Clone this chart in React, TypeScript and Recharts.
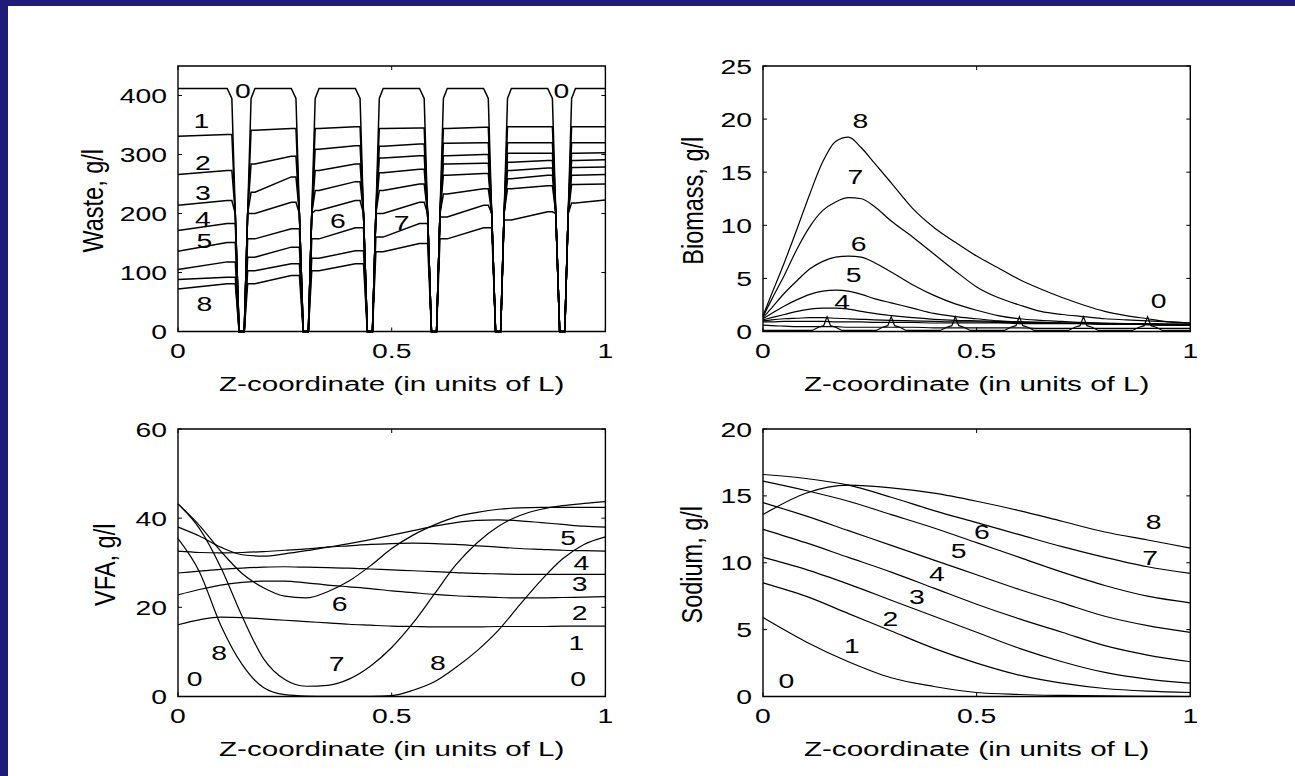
import React from "react";
import {
  LineChart,
  Line,
  XAxis,
  YAxis,
  ReferenceArea,
  ReferenceDot,
  Label,
} from "recharts";

// ---------- Waste, g/l ----------
// each loading point: shoulder, steep fall, floor, steep rise, shoulder
const wasteZ = [
  0,
  0.115, 0.126, 0.134, 0.143, 0.155, 0.163, 0.171, 0.18,
  0.265, 0.276, 0.284, 0.293, 0.305, 0.313, 0.321, 0.33,
  0.415, 0.426, 0.434, 0.443, 0.455, 0.463, 0.471, 0.48,
  0.565, 0.576, 0.584, 0.593, 0.605, 0.613, 0.621, 0.63,
  0.715, 0.726, 0.734, 0.743, 0.755, 0.763, 0.771, 0.78,
  0.865, 0.876, 0.884, 0.893, 0.905, 0.913, 0.921, 0.93,
  1,
];
const waste0 = [
  412,
  412, 395, 200, 0, 0, 200, 395, 412,
  412, 395, 200, 0, 0, 200, 395, 412,
  412, 395, 200, 0, 0, 200, 395, 412,
  412, 395, 200, 0, 0, 200, 395, 412,
  412, 395, 200, 0, 0, 200, 395, 412,
  412, 395, 200, 0, 0, 200, 395, 412,
  412,
];
const waste1 = [
  331,
  334, 334, 200, 0, 0, 200, 341, 341,
  344, 344, 200, 0, 0, 200, 344, 344,
  347, 347, 200, 0, 0, 200, 344, 344,
  345, 345, 200, 0, 0, 200, 344, 344,
  346, 346, 200, 0, 0, 200, 347, 347,
  347, 347, 200, 0, 0, 200, 347, 347,
  347,
];
const waste2 = [
  266,
  273, 273, 200, 0, 0, 200, 284, 284,
  297, 297, 200, 0, 0, 200, 309, 309,
  315, 315, 200, 0, 0, 200, 314, 314,
  318, 318, 200, 0, 0, 200, 319, 319,
  320, 320, 200, 0, 0, 200, 320, 320,
  320, 320, 200, 0, 0, 200, 320, 320,
  320,
];
const waste3 = [
  214,
  222, 222, 200, 0, 0, 200, 236, 236,
  262, 262, 200, 0, 0, 200, 273, 273,
  284, 284, 200, 0, 0, 200, 294, 294,
  298, 298, 200, 0, 0, 200, 298, 298,
  300, 300, 200, 0, 0, 200, 302, 302,
  302, 302, 200, 0, 0, 200, 302, 302,
  303,
];
const waste4 = [
  171,
  183, 183, 183, 0, 0, 200, 200, 200,
  219, 219, 200, 0, 0, 200, 239, 239,
  254, 254, 200, 0, 0, 200, 269, 269,
  275, 275, 200, 0, 0, 200, 284, 284,
  285, 285, 200, 0, 0, 200, 287, 287,
  290, 290, 200, 0, 0, 200, 290, 290,
  291,
];
const waste5 = [
  136,
  151, 151, 151, 0, 0, 157, 157, 157,
  174, 174, 174, 0, 0, 200, 205, 205,
  222, 222, 200, 0, 0, 200, 239, 239,
  250, 250, 200, 0, 0, 200, 265, 265,
  268, 268, 200, 0, 0, 200, 273, 273,
  277, 277, 200, 0, 0, 200, 278, 278,
  279,
];
const waste6 = [
  105,
  118, 118, 118, 0, 0, 126, 126, 126,
  143, 143, 143, 0, 0, 157, 157, 157,
  176, 176, 176, 0, 0, 200, 200, 200,
  219, 219, 200, 0, 0, 200, 233, 233,
  242, 242, 200, 0, 0, 200, 259, 259,
  265, 265, 200, 0, 0, 200, 265, 265,
  266,
];
const waste7 = [
  88,
  92, 92, 92, 0, 0, 103, 103, 103,
  115, 115, 115, 0, 0, 124, 124, 124,
  137, 137, 137, 0, 0, 160, 160, 160,
  183, 183, 183, 0, 0, 194, 194, 194,
  214, 214, 200, 0, 0, 200, 242, 242,
  247, 247, 200, 0, 0, 200, 249, 249,
  250,
];
const waste8 = [
  72,
  81, 81, 81, 0, 0, 81, 81, 81,
  95, 95, 95, 0, 0, 103, 103, 103,
  115, 115, 115, 0, 0, 135, 135, 135,
  149, 149, 149, 0, 0, 157, 157, 157,
  176, 176, 176, 0, 0, 189, 189, 189,
  203, 203, 200, 0, 0, 200, 218, 218,
  223,
];
const wasteTicks = [0, 100, 200, 300, 400];

// ---------- Biomass, g/l ----------
const bioZ = [
  0, 0.02, 0.05, 0.08, 0.11, 0.14, 0.17, 0.2, 0.23, 0.26, 0.3, 0.35, 0.4,
  0.45, 0.5, 0.55, 0.6, 0.65, 0.7, 0.75, 0.8, 0.85, 0.9, 0.95, 1,
];
const bio1 = [0.6, 0.55, 0.5, 0.45, 0.45, 0.45, 0.45, 0.4, 0.4, 0.4, 0.4, 0.4, 0.35, 0.35, 0.35, 0.35, 0.35, 0.3, 0.3, 0.3, 0.3, 0.3, 0.3, 0.3, 0.3];
const bio2 = [0.9, 0.9, 0.95, 0.95, 0.95, 0.95, 0.9, 0.9, 0.9, 0.85, 0.85, 0.85, 0.8, 0.8, 0.8, 0.8, 0.75, 0.75, 0.75, 0.75, 0.7, 0.7, 0.7, 0.7, 0.7];
const bio3 = [1.0, 1.1, 1.2, 1.25, 1.3, 1.3, 1.25, 1.2, 1.15, 1.1, 1.05, 1.0, 0.95, 0.9, 0.9, 0.85, 0.85, 0.8, 0.8, 0.8, 0.75, 0.75, 0.75, 0.7, 0.7];
const bio4 = [1.1, 1.3, 1.6, 1.9, 2.1, 2.2, 2.2, 2.1, 1.9, 1.7, 1.5, 1.3, 1.15, 1.05, 1.0, 0.95, 0.9, 0.85, 0.8, 0.75, 0.7, 0.7, 0.65, 0.6, 0.6];
const bio5 = [1.2, 1.7, 2.4, 3.0, 3.5, 3.8, 3.9, 3.8, 3.5, 3.1, 2.7, 2.2, 1.7, 1.4, 1.2, 1.0, 0.9, 0.85, 0.8, 0.75, 0.7, 0.7, 0.65, 0.6, 0.6];
const bio6 = [1.3, 2.2, 3.6, 4.8, 5.9, 6.6, 7.0, 7.1, 7.0, 6.5, 5.6, 4.4, 3.4, 2.6, 2.0, 1.5, 1.2, 1.05, 0.95, 0.85, 0.8, 0.75, 0.7, 0.65, 0.6];
const bio7 = [1.4, 3.0, 5.3, 7.8, 9.9, 11.4, 12.2, 12.6, 12.5, 11.8, 10.4, 8.9, 7.3, 5.7, 4.2, 3.2, 2.5, 1.9, 1.6, 1.4, 1.2, 1.1, 1.0, 0.9, 0.8];
const bio8 = [1.5, 3.5, 6.5, 9.7, 13.0, 16.0, 17.9, 18.3, 17.3, 15.9, 14.0, 11.6, 9.8, 8.4, 7.1, 6.0, 4.9, 4.0, 3.2, 2.5, 1.9, 1.5, 1.2, 0.9, 0.8];
// time 0 has small bumps at every loading point
const bio0Z = [
  0,
  0.115, 0.13, 0.142, 0.15, 0.158, 0.17, 0.185,
  0.265, 0.28, 0.292, 0.3, 0.308, 0.32, 0.335,
  0.415, 0.43, 0.442, 0.45, 0.458, 0.47, 0.485,
  0.565, 0.58, 0.592, 0.6, 0.608, 0.62, 0.635,
  0.715, 0.73, 0.742, 0.75, 0.758, 0.77, 0.785,
  0.865, 0.88, 0.892, 0.9, 0.908, 0.92, 0.935,
  1,
];
const bio0 = [
  0.1,
  0.1, 0.4, 0.55, 1.4, 0.55, 0.4, 0.1,
  0.1, 0.4, 0.55, 1.4, 0.55, 0.4, 0.1,
  0.1, 0.4, 0.55, 1.4, 0.55, 0.4, 0.1,
  0.1, 0.4, 0.55, 1.4, 0.55, 0.4, 0.1,
  0.1, 0.4, 0.55, 1.4, 0.55, 0.4, 0.1,
  0.1, 0.4, 0.55, 1.4, 0.55, 0.4, 0.1,
  0.1,
];
const bioTicks = [0, 5, 10, 15, 20, 25];

// ---------- VFA, g/l ----------
const vfaZ = [
  0, 0.05, 0.1, 0.15, 0.2, 0.25, 0.3, 0.35, 0.4, 0.45, 0.5, 0.55, 0.6, 0.65,
  0.7, 0.75, 0.8, 0.85, 0.9, 0.95, 1,
];
const vfa0 = [0, 0, 0, 0, 0, 0, 0, 0, 0, 0, 0, 0, 0, 0, 0, 0, 0, 0, 0, 0, 0];
const vfa1 = [16.1, 17.2, 17.8, 17.7, 17.4, 17.1, 16.8, 16.5, 16.2, 16.0, 15.8, 15.7, 15.6, 15.6, 15.6, 15.7, 15.7, 15.7, 15.8, 15.8, 15.8];
const vfa2 = [22.8, 24.0, 25.0, 25.6, 25.9, 25.9, 25.5, 25.0, 24.6, 24.2, 23.7, 23.3, 22.9, 22.6, 22.4, 22.2, 22.1, 22.1, 22.2, 22.3, 22.4];
const vfa3 = [27.7, 28.1, 28.5, 28.8, 29.0, 29.1, 29.0, 28.9, 28.8, 28.6, 28.4, 28.2, 28.0, 27.8, 27.6, 27.5, 27.4, 27.4, 27.4, 27.4, 27.4];
const vfa4 = [32.6, 32.3, 32.2, 32.3, 32.5, 32.8, 33.1, 33.5, 33.8, 34.1, 34.3, 34.4, 34.3, 34.1, 33.8, 33.5, 33.2, 33.0, 32.8, 32.7, 32.6];
const vfa5 = [38.0, 36.0, 33.5, 31.8, 31.5, 32.0, 32.7, 33.5, 34.3, 35.2, 36.2, 37.2, 38.2, 39.0, 39.5, 39.6, 39.4, 39.0, 38.6, 38.2, 38.0];
const vfa6 = [43.2, 38.4, 32.6, 27.6, 24.4, 22.5, 22.1, 23.5, 25.9, 29.3, 33.2, 36.2, 38.5, 40.3, 41.3, 42.0, 42.3, 42.4, 42.4, 42.4, 42.4];
const vfa7 = [43.2, 37.7, 29.0, 18.0, 8.5, 3.8, 2.3, 2.5, 3.9, 6.8, 11.0, 16.5, 23.0, 29.5, 34.5, 38.2, 40.6, 42.0, 42.8, 43.3, 43.7];
const vfa8 = [35.4, 28.0, 16.0, 7.2, 2.0, 0.4, 0.1, 0.05, 0.05, 0.05, 0.2, 1.4, 3.3, 6.5, 10.3, 14.9, 20.6, 26.1, 30.9, 34.1, 35.8];
const vfaTicks = [0, 20, 40, 60];

// ---------- Sodium, g/l ----------
const sodZ = [0, 0.1, 0.2, 0.3, 0.4, 0.5, 0.6, 0.7, 0.8, 0.9, 1];
const sod0 = [0, 0, 0, 0, 0, 0, 0, 0, 0, 0, 0];
const sod1 = [5.9, 4.1, 2.6, 1.4, 0.75, 0.3, 0.15, 0.08, 0.04, 0.02, 0.0];
const sod2 = [8.5, 7.5, 6.2, 4.9, 3.6, 2.5, 1.6, 1.0, 0.6, 0.4, 0.3];
const sod3 = [10.4, 9.5, 8.4, 7.2, 6.0, 4.8, 3.6, 2.6, 1.8, 1.3, 1.0];
const sod4 = [12.5, 11.5, 10.4, 9.3, 8.1, 6.9, 5.8, 4.8, 3.8, 3.1, 2.6];
const sod5 = [14.5, 13.5, 12.4, 11.3, 10.2, 9.1, 8.0, 7.0, 6.0, 5.3, 4.8];
const sod6 = [16.1, 15.4, 14.6, 13.6, 12.6, 11.5, 10.4, 9.3, 8.3, 7.5, 7.0];
const sod7 = [16.6, 16.3, 15.8, 14.9, 13.9, 13.0, 12.1, 11.2, 10.4, 9.7, 9.2];
const sod8 = [13.6, 15.2, 15.8, 15.6, 15.2, 14.6, 13.9, 13.1, 12.3, 11.7, 11.1];
const sodTicks = [0, 5, 10, 15, 20];

const zTicks = [0, 0.5, 1];

// curve labels (time index) placed in data coordinates
const wasteMarks = [
  { z: 0.152, v: 408, t: "0" },
  { z: 0.897, v: 408, t: "0" },
  { z: 0.055, v: 358, t: "1" },
  { z: 0.058, v: 287, t: "2" },
  { z: 0.058, v: 236, t: "3" },
  { z: 0.058, v: 191, t: "4" },
  { z: 0.062, v: 154, t: "5" },
  { z: 0.374, v: 188, t: "6" },
  { z: 0.523, v: 185, t: "7" },
  { z: 0.062, v: 47, t: "8" },
];
const bioMarks = [
  { z: 0.228, v: 19.9, t: "8" },
  { z: 0.216, v: 14.6, t: "7" },
  { z: 0.224, v: 8.3, t: "6" },
  { z: 0.212, v: 5.4, t: "5" },
  { z: 0.185, v: 2.8, t: "4" },
  { z: 0.926, v: 2.9, t: "0" },
];
const vfaMarks = [
  { z: 0.913, v: 35.7, t: "5" },
  { z: 0.944, v: 30.1, t: "4" },
  { z: 0.94, v: 25.3, t: "3" },
  { z: 0.94, v: 18.9, t: "2" },
  { z: 0.932, v: 12.2, t: "1" },
  { z: 0.936, v: 4.0, t: "0" },
  { z: 0.039, v: 4.0, t: "0" },
  { z: 0.096, v: 9.9, t: "8" },
  { z: 0.378, v: 20.8, t: "6" },
  { z: 0.371, v: 7.3, t: "7" },
  { z: 0.608, v: 7.7, t: "8" },
];
const sodMarks = [
  { z: 0.914, v: 13.1, t: "8" },
  { z: 0.906, v: 10.4, t: "7" },
  { z: 0.512, v: 12.3, t: "6" },
  { z: 0.458, v: 10.9, t: "5" },
  { z: 0.407, v: 9.2, t: "4" },
  { z: 0.36, v: 7.5, t: "3" },
  { z: 0.298, v: 5.8, t: "2" },
  { z: 0.208, v: 3.8, t: "1" },
  { z: 0.055, v: 1.2, t: "0" },
];

const FONT = "'Liberation Sans', Arial, Helvetica, sans-serif";
const FS = 21;
const SX = 1.35;
const PAD_L = 130;
const PAD_T = 12;
const PAD_R = 12;
const PAD_B = 80;

type Curve = { z: number[]; v: number[]; type?: "linear" | "monotone" };
type Mark = { z: number; v: number; t: string };

// text stretched sideways like the old plot export
const WideText = ({ x, y, text, anchor = "middle", sx = SX, size = FS }: any) => (
  <text
    transform={`translate(${x},${y}) scale(${sx},1)`}
    textAnchor={anchor}
    fontSize={size}
    fontFamily={FONT}
    fill="#000"
  >
    {text}
  </text>
);

const rows = (c: Curve) => c.z.map((z, i) => ({ z, v: c.v[i] }));

interface PanelProps {
  left: number;
  top: number;
  w: number;
  h: number;
  yMax: number;
  yTicks: number[];
  yTitle: string;
  titleGap: number;
  curves: Curve[];
  marks: Mark[];
  lineWidth?: number;
}

const Panel = ({ left, top, w, h, yMax, yTicks, yTitle, titleGap, curves, marks, lineWidth = 1.2 }: PanelProps) => {
  const XTick = (p: any) => (
    <g>
      <line x1={p.x} y1={p.y} x2={p.x} y2={p.y - 4} stroke="#000" />
      <line x1={p.x} y1={p.y - h} x2={p.x} y2={p.y - h + 4} stroke="#000" />
      <WideText x={p.x} y={p.y + 27} text={String(p.payload.value)} />
    </g>
  );
  const YTick = (p: any) => (
    <g>
      <line x1={p.x} y1={p.y} x2={p.x + 4} y2={p.y} stroke="#000" />
      <line x1={p.x + w - 4} y1={p.y} x2={p.x + w} y2={p.y} stroke="#000" />
      <WideText x={p.x - 11} y={p.y + 7.5} text={String(p.payload.value)} anchor="end" />
    </g>
  );
  const cx = PAD_L - titleGap;
  const cy = PAD_T + h / 2 + 2;

  return (
    <div style={{ position: "absolute", left: left - PAD_L, top: top - PAD_T }}>
      <LineChart
        width={w + PAD_L + PAD_R}
        height={h + PAD_T + PAD_B}
        margin={{ top: PAD_T, right: PAD_R, bottom: 0, left: 0 }}
      >
        <XAxis
          type="number"
          dataKey="z"
          domain={[0, 1]}
          ticks={zTicks}
          interval={0}
          axisLine={false}
          tickLine={false}
          tickSize={0}
          tickMargin={0}
          height={PAD_B}
          tick={XTick}
        >
          <Label
            content={() => (
              <WideText
                x={PAD_L + w / 2}
                y={PAD_T + h + 60}
                text="Z-coordinate (in units of L)"
                sx={1.41}
              />
            )}
          />
        </XAxis>
        <YAxis
          type="number"
          domain={[0, yMax]}
          ticks={yTicks}
          interval={0}
          axisLine={false}
          tickLine={false}
          tickSize={0}
          tickMargin={0}
          width={PAD_L}
          tick={YTick}
        >
          <Label
            content={() => (
              <text
                transform={`translate(${cx},${cy}) rotate(-90) scale(1,1.28)`}
                textAnchor="middle"
                dy="0.36em"
                fontSize={23.5}
                fontFamily={FONT}
                fill="#000"
              >
                {yTitle}
              </text>
            )}
          />
        </YAxis>
        <ReferenceArea x1={0} x2={1} y1={0} y2={yMax} fill="none" stroke="#000" strokeWidth={1.4} />
        {curves.map((c, i) => (
          <Line
            key={i}
            data={rows(c)}
            dataKey="v"
            type={c.type ?? "monotone"}
            stroke="#000"
            strokeWidth={lineWidth}
            dot={false}
            activeDot={false}
            isAnimationActive={false}
          />
        ))}
        {marks.map((m, i) => (
          <ReferenceDot
            key={i}
            x={m.z}
            y={m.v}
            r={0}
            shape={(p: any) => <WideText x={p.cx} y={p.cy + 7.5} text={m.t} />}
          />
        ))}
      </LineChart>
    </div>
  );
};

const wasteCurves: Curve[] = [waste0, waste1, waste2, waste3, waste4, waste5, waste6, waste7, waste8].map(
  (v) => ({ z: wasteZ, v, type: "linear" })
);
const bioCurves: Curve[] = [
  { z: bio0Z, v: bio0, type: "linear" },
  ...[bio1, bio2, bio3, bio4, bio5, bio6, bio7, bio8].map((v) => ({ z: bioZ, v })),
];
const vfaCurves: Curve[] = [vfa0, vfa1, vfa2, vfa3, vfa4, vfa5, vfa6, vfa7, vfa8].map((v) => ({ z: vfaZ, v }));
const sodCurves: Curve[] = [sod0, sod1, sod2, sod3, sod4, sod5, sod6, sod7, sod8].map((v) => ({ z: sodZ, v }));

export default function App() {
  return (
    <div style={{ position: "relative", width: 1295, height: 776, background: "#fff", overflow: "hidden" }}>
      <style>{"body{margin:0}"}</style>
      <div style={{ position: "absolute", left: 0, top: 0, width: 1295, height: 6, background: "#1f1b78" }} />
      <div style={{ position: "absolute", left: 0, top: 0, width: 8, height: 776, background: "#1f1b78" }} />
      <Panel left={178.3} top={65.5} w={427.4} h={265.5} yMax={450} yTicks={wasteTicks} yTitle="Waste, g/l" titleGap={86} curves={wasteCurves} marks={wasteMarks} lineWidth={1.5} />
      <Panel left={762.7} top={65.5} w={427.3} h={265.5} yMax={25} yTicks={bioTicks} yTitle="Biomass, g/l" titleGap={71} curves={bioCurves} marks={bioMarks} />
      <Panel left={178.3} top={428.5} w={427.4} h={267.5} yMax={60} yTicks={vfaTicks} yTitle="VFA, g/l" titleGap={74} curves={vfaCurves} marks={vfaMarks} />
      <Panel left={762.7} top={428.5} w={427.3} h={267.5} yMax={20} yTicks={sodTicks} yTitle="Sodium, g/l" titleGap={72} curves={sodCurves} marks={sodMarks} />
    </div>
  );
}
